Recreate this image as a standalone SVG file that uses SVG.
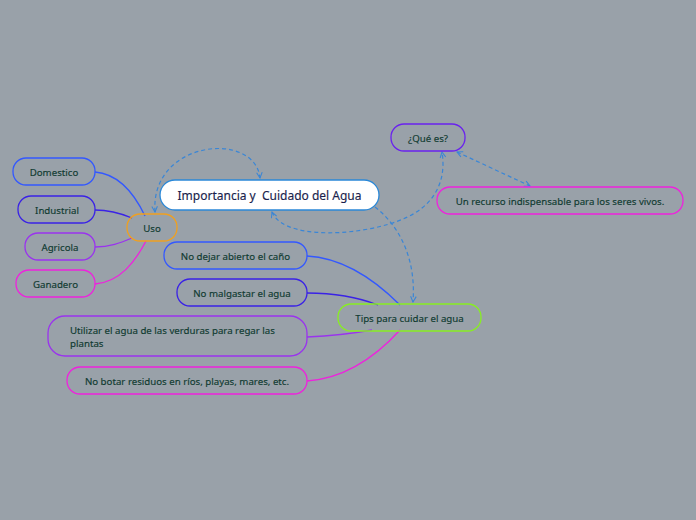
<svg xmlns="http://www.w3.org/2000/svg" width="696" height="520" viewBox="0 0 696 520">
<defs>
<style>
.n rect{fill:none;stroke-width:1.3}
.n text{font-family:"Noto Sans","DejaVu Sans",sans-serif;font-size:9.7px;fill:#0f3a30;text-anchor:middle;stroke:#0f3a30;stroke-width:0.15}
.c path{fill:none;stroke-width:1.3}
.d path{fill:none;stroke:#3a86d6;stroke-width:1.2;stroke-dasharray:4 3}
</style>
<marker id="ah" viewBox="0 0 10 10" refX="9" refY="5" markerWidth="7" markerHeight="7" orient="auto-start-reverse" markerUnits="userSpaceOnUse">
<path d="M1,1 L9,5 L1,9" fill="none" stroke="#3a86d6" stroke-width="1.5"/>
</marker>
</defs>
<rect width="696" height="520" fill="#99a1a9"/>

<g id="connectors">
<g class="c">
<path d="M95,172 C120,174 135,195 145,216" stroke="#3358ff"/>
<path d="M95,210 C110,210 120,213 132,218" stroke="#3a22e6"/>
<path d="M95,247 C110,247 120,243 132,238" stroke="#9a33ee"/>
<path d="M95,284 C120,282 135,262 146,241" stroke="#ee22dd"/>
<path d="M307,256 C345,258 378,283 400,305" stroke="#3358ff" stroke-width="1.6"/>
<path d="M307,293 C340,293 360,298 378,305" stroke="#3a22e6" stroke-width="1.6"/>
<path d="M307,337 C330,336 350,334 372,330" stroke="#9a33ee"/>
<path d="M307,381 C350,378 380,352 400,330" stroke="#ee22dd"/>
</g>
<g class="d">
<path d="M155,212 C150,140 255,130 260,178" marker-start="url(#ah)" marker-end="url(#ah)"/>
<path d="M272,212 C285,245 390,235 422,208 C442,192 445,170 442,152" marker-start="url(#ah)" marker-end="url(#ah)"/>
<path d="M457,152 L530,186" marker-start="url(#ah)" marker-end="url(#ah)"/>
<path d="M375,207 C402,228 416,262 413,302" marker-end="url(#ah)"/>
</g>
</g>

<g id="central">
<rect x="160" y="180" width="219" height="30" rx="15" fill="#ffffff" stroke="#2a88d8" stroke-width="1.3"/>
<text x="269.5" y="200" font-family="'Noto Sans','DejaVu Sans',sans-serif" font-size="12" fill="#1a1f4d" stroke="#1a1f4d" stroke-width="0.15" text-anchor="middle">Importancia y&#160; Cuidado del Agua</text>
</g>

<g id="uso" class="n"><rect x="127" y="214" width="50" height="27" rx="13" stroke="#f0a020"/><text x="152" y="231.5">Uso</text></g>
<g id="domestico" class="n"><rect x="13" y="158" width="82" height="27" rx="13" stroke="#3358ff"/><text x="54" y="175.5">Domestico</text></g>
<g id="industrial" class="n"><rect x="18" y="196" width="77" height="27" rx="13" stroke="#3a22e6"/><text x="57" y="213.5">Industrial</text></g>
<g id="agricola" class="n"><rect x="25" y="233" width="70" height="27" rx="13" stroke="#9a33ee"/><text x="60" y="250.5">Agricola</text></g>
<g id="ganadero" class="n"><rect x="16" y="270" width="79" height="27" rx="13" stroke="#ee22dd"/><text x="55.5" y="287.5">Ganadero</text></g>

<g id="tips" class="n"><rect x="338" y="304" width="143" height="27" rx="13" stroke="#88ee22"/><text x="409.5" y="321.5">Tips para cuidar el agua</text></g>
<g id="nodejar" class="n"><rect x="164" y="242" width="143" height="27" rx="13" stroke="#3358ff"/><text x="235.5" y="259.5">No dejar abierto el caño</text></g>
<g id="nomalgastar" class="n"><rect x="177" y="279" width="130" height="27" rx="13" stroke="#3a22e6"/><text x="242" y="296.5">No malgastar el agua</text></g>
<g id="utilizar" class="n"><rect x="48" y="316" width="259" height="40" rx="17" stroke="#9a33ee"/><text x="70" y="334" style="text-anchor:start">Utilizar el agua de las verduras para regar las</text><text x="70" y="346.5" style="text-anchor:start">plantas</text></g>
<g id="nobotar" class="n"><rect x="67" y="367" width="240" height="27" rx="13" stroke="#ee22dd"/><text x="187" y="384.5">No botar residuos en ríos, playas, mares, etc.</text></g>

<g id="quees" class="n"><rect x="391" y="124" width="74" height="27" rx="13" stroke="#6a22ee"/><text x="428" y="141.5">¿Qué es?</text></g>
<g id="recurso" class="n"><rect x="437" y="187" width="246" height="27" rx="13" stroke="#ee22dd"/><text x="560" y="204.5">Un recurso indispensable para los seres vivos.</text></g>
</svg>
